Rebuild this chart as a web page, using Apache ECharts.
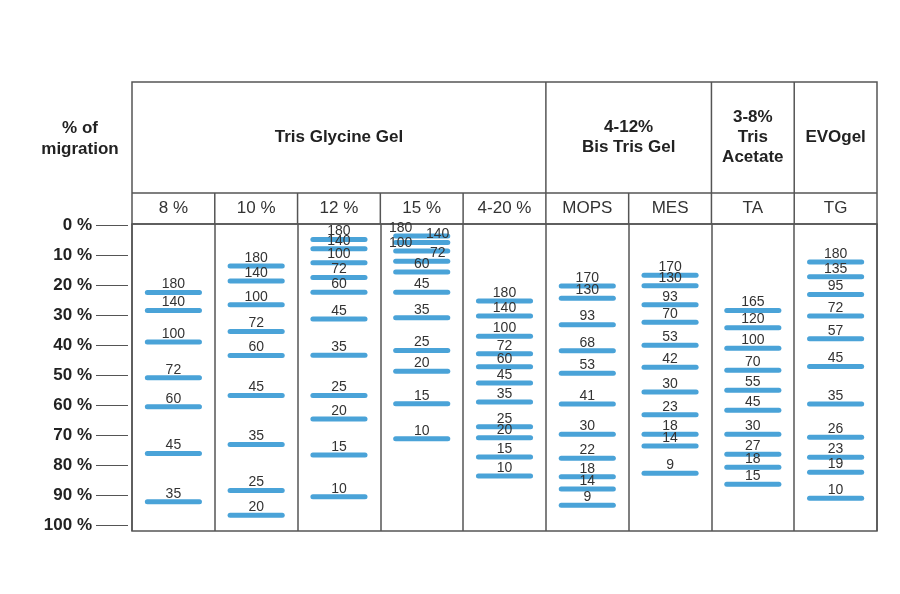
<!DOCTYPE html>
<html>
<head>
<meta charset="utf-8">
<script src="https://cdn.jsdelivr.net/npm/echarts@6/dist/echarts.min.js"></script>
<style>
html,body{margin:0;padding:0;background:#fff;}
#chart{width:900px;height:594px;}
</style>
</head>
<body>
<div id="chart"></div>
<script>
// ---- data ----
const lanes = ['8 %', '10 %', '12 %', '15 %', '4-20 %', 'MOPS', 'MES', 'TA', 'TG'];
const yTicks = [0, 10, 20, 30, 40, 50, 60, 70, 80, 90, 100];

const kDa8 = [180, 140, 100, 72, 60, 45, 35];
const mig8 = [22.4, 28.4, 38.9, 50.8, 60.5, 76.1, 92.2];
const kDa10 = [180, 140, 100, 72, 60, 45, 35, 25, 20];
const mig10 = [13.5, 18.5, 26.5, 35.4, 43.4, 56.8, 73.1, 88.5, 96.7];
const kDa12 = [180, 140, 100, 72, 60, 45, 35, 25, 20, 15, 10];
const mig12 = [4.7, 7.8, 12.4, 17.4, 22.3, 31.2, 43.3, 56.8, 64.6, 76.6, 90.6];
const kDa15 = [180, 140, 100, 72, 60, 45, 35, 25, 20, 15, 10];
const mig15 = [3.5, 5.7, 8.5, 11.9, 15.5, 22.3, 30.8, 41.7, 48.7, 59.5, 71.2];
const kDa420 = [180, 140, 100, 72, 60, 45, 35, 25, 20, 15, 10];
const mig420 = [25.2, 30.2, 37.0, 42.8, 47.2, 52.6, 58.9, 67.2, 70.9, 77.3, 83.6];
const kDaMOPS = [170, 130, 93, 68, 53, 41, 30, 22, 18, 14, 9];
const migMOPS = [20.2, 24.3, 33.1, 41.8, 49.3, 59.6, 69.7, 77.7, 83.9, 88.0, 93.4];
const kDaMES = [170, 130, 93, 70, 53, 42, 30, 23, 18, 14, 9];
const migMES = [16.6, 20.1, 26.5, 32.3, 40.0, 47.3, 55.6, 63.2, 69.7, 73.6, 82.7];
const kDaTA = [165, 120, 100, 70, 55, 45, 30, 27, 18, 15];
const migTA = [28.4, 34.1, 41.0, 48.3, 55.0, 61.7, 69.7, 76.4, 80.7, 86.4];
const kDaTG = [180, 135, 95, 72, 57, 45, 35, 26, 23, 19, 10];
const migTG = [12.2, 17.1, 23.0, 30.2, 37.8, 47.1, 59.6, 70.7, 77.4, 82.4, 91.1];

const groups = [
  {from: 0, to: 5, text: 'Tris Glycine Gel'},
  {from: 5, to: 7, text: '4-12%\nBis Tris Gel'},
  {from: 7, to: 8, text: '3-8%\nTris\nAcetate'},
  {from: 8, to: 9, text: 'EVOgel'}
];

// ---- styling / layout (not data) ----
const laneKDa = [kDa8, kDa10, kDa12, kDa15, kDa420, kDaMOPS, kDaMES, kDaTA, kDaTG];
const laneMig = [mig8, mig10, mig12, mig15, mig420, migMOPS, migMES, migTA, migTG];
// horizontal label shifts for crowded bands (lane index -> band index -> dx px)
const labelShift = {3: {0: -21, 1: 16, 2: -21, 3: 16}};

const bandData = [];
laneKDa.forEach((arr, li) => {
  arr.forEach((k, bi) => {
    const dx = (labelShift[li] && labelShift[li][bi]) || 0;
    bandData.push([li, laneMig[li][bi], k, dx]);
  });
});

const FONT = '"Liberation Sans", Arial, sans-serif';
const L = 132, R = 877, T = 82, H1 = 193, G = 224, B = 531;
const colW = (R - L) / lanes.length;
const LINE = '#555';

const graphics = [];
graphics.push({type: 'rect', shape: {x: L, y: T, width: R - L, height: G - T},
  style: {fill: 'none', stroke: LINE, lineWidth: 1.5}, silent: true});
graphics.push({type: 'line', shape: {x1: L, y1: H1, x2: R, y2: H1},
  style: {stroke: LINE, lineWidth: 1.5}, silent: true});
groups.forEach(g => {
  if (g.from > 0) {
    const x = L + g.from * colW;
    graphics.push({type: 'line', shape: {x1: x, y1: T, x2: x, y2: H1},
      style: {stroke: LINE, lineWidth: 1.5}, silent: true});
  }
  graphics.push({type: 'text', x: L + (g.from + g.to) / 2 * colW, y: (T + H1) / 2,
    style: {text: g.text, align: 'center', verticalAlign: 'middle', fill: '#222',
      font: 'bold 17px ' + FONT, lineHeight: 20}, silent: true});
});
for (let i = 1; i < lanes.length; i++) {
  const x = L + i * colW;
  graphics.push({type: 'line', shape: {x1: x, y1: H1, x2: x, y2: G},
    style: {stroke: LINE, lineWidth: 1.5}, silent: true});
}
graphics.push({type: 'text', x: 80, y: 139,
  style: {text: '% of\nmigration', align: 'center', verticalAlign: 'middle', fill: '#222',
    font: 'bold 17px ' + FONT, lineHeight: 21}, silent: true});

const chart = echarts.init(document.getElementById('chart'), null, {renderer: 'canvas'});
chart.setOption({
  backgroundColor: '#fff',
  animation: false,
  grid: {left: L, right: 900 - R, top: G, bottom: 594 - B, show: true,
    borderColor: LINE, borderWidth: 1.5, backgroundColor: 'transparent'},
  xAxis: {
    type: 'category', data: lanes, position: 'top', boundaryGap: true,
    axisLine: {show: false}, axisTick: {show: false},
    axisLabel: {fontSize: 17, color: '#333', margin: 7, fontFamily: FONT, interval: 0},
    splitLine: {show: true, interval: 0, lineStyle: {color: LINE, width: 1.5}}
  },
  yAxis: {
    type: 'value', inverse: true, min: -0.5, max: 102, offset: 4,
    axisLine: {show: false},
    splitLine: {show: false},
    axisTick: {show: true, length: 32, customValues: yTicks, lineStyle: {color: LINE, width: 1}},
    axisLabel: {customValues: yTicks, formatter: '{value} %', margin: 36,
      fontSize: 17, fontWeight: 'bold', color: '#222', fontFamily: FONT}
  },
  graphic: graphics,
  series: [{
    type: 'custom',
    data: bandData,
    encode: {x: 0, y: 1},
    renderItem: function (params, api) {
      const p = api.coord([api.value(0), api.value(1)]);
      const w = api.size([1, 0])[0];
      const half = w * 0.345 - 2.5;
      const dx = api.value(3);
      return {
        type: 'group',
        children: [
          {type: 'line', shape: {x1: p[0] - half, y1: p[1], x2: p[0] + half, y2: p[1]},
            style: {stroke: '#4aa3d8', lineWidth: 5, lineCap: 'round'}},
          {type: 'text', x: p[0] + dx, y: p[1] - 8,
            style: {text: String(api.value(2)), align: 'center', verticalAlign: 'middle',
              fill: '#333', font: '14px ' + FONT}}
        ]
      };
    }
  }]
});
</script>
</body>
</html>
